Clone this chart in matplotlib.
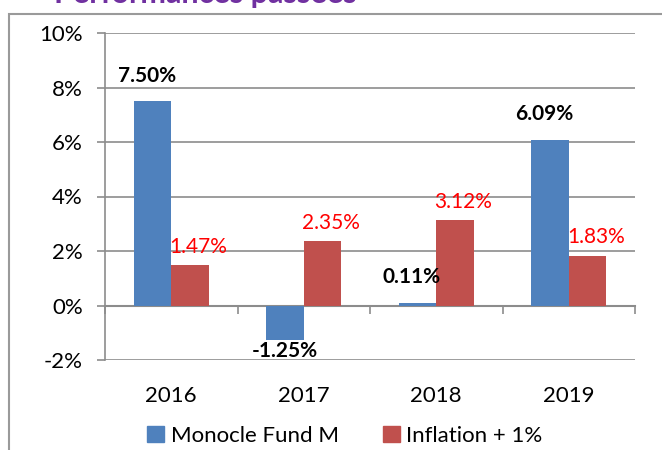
import matplotlib.pyplot as plt
from matplotlib.patches import Rectangle
import numpy as np

# Données du graphique
years = ['2016', '2017', '2018', '2019']
fund = [7.50, -1.25, 0.11, 6.09]
inflation = [1.47, 2.35, 3.12, 1.83]
fund_labels = ['7.50%', '-1.25%', '0.11%', '6.09%']
inflation_labels = ['1.47%', '2.35%', '3.12%', '1.83%']
y_ticks = [-2, 0, 2, 4, 6, 8, 10]

COLORS = {
    'fund': '#4F81BD',
    'inflation': '#C0504D',
    'grid': '#8C8C8C',
    'frame': '#9A9A9A',
    'title': '#7030A0',
    'red_text': '#FF0000',
}

plt.rcParams['font.family'] = ['Lato', 'DejaVu Sans']

fig = plt.figure(figsize=(6.62, 4.5), dpi=100)
ax = fig.add_axes([105 / 662, 1 - 360 / 450, 530 / 662, 327 / 450])

x = np.arange(len(years))
w = 0.283
ax.bar(x - w / 2, fund, w, color=COLORS['fund'], zorder=3)
ax.bar(x + w / 2, inflation, w, color=COLORS['inflation'], zorder=3)

ax.set_xlim(-0.5, len(years) - 0.5)
ax.set_ylim(-2, 10)

# Axe Y
ax.set_yticks(y_ticks)
ax.set_yticklabels([f'{v}%' for v in y_ticks], fontsize=16)
ax.tick_params(axis='y', length=6, width=1.2, color=COLORS['grid'], pad=10)
ax.grid(axis='y', color=COLORS['grid'], linewidth=1.2, zorder=0)

# Axe X : ligne à 0, graduations entre les catégories
ax.spines['bottom'].set_position(('data', 0))
ax.spines['bottom'].set_color(COLORS['grid'])
ax.spines['bottom'].set_linewidth(1.5)
ax.spines['left'].set_color(COLORS['grid'])
ax.spines['left'].set_linewidth(1.2)
ax.spines['top'].set_visible(False)
ax.spines['right'].set_visible(False)
ax.set_xticks(x)
ax.set_xticklabels(years, fontsize=16)
ax.tick_params(axis='x', length=0, pad=58)
ax.set_xticks(np.arange(len(years) + 1) - 0.5, minor=True)
ax.tick_params(axis='x', which='minor', length=6, width=1.2, color=COLORS['grid'])

# Étiquettes de valeurs
for xi, v, lab in zip(x, fund, fund_labels):
    if v >= 0:
        ax.annotate(lab, (xi - w / 2, v), xytext=(-4, 11), textcoords='offset points',
                    ha='center', va='bottom', fontsize=15, fontweight='bold', color='black')
    else:
        ax.annotate(lab, (xi - w / 2, v), xytext=(0, -1), textcoords='offset points',
                    ha='center', va='top', fontsize=15, fontweight='bold', color='black')
for xi, v, lab in zip(x, inflation, inflation_labels):
    ax.annotate(lab, (xi + w / 2, v), xytext=(6, 6), textcoords='offset points',
                ha='center', va='bottom', fontsize=15, color=COLORS['red_text'])

# Légende
handles = [Rectangle((0, 0), 1, 1, color=COLORS['fund']),
           Rectangle((0, 0), 1, 1, color=COLORS['inflation'])]
fig.legend(handles, ['Monocle Fund M', 'Inflation + 1%'], loc='center',
           bbox_to_anchor=(345 / 662, 1 - 436 / 450), ncol=2, frameon=False,
           fontsize=16, handlelength=0.75, handleheight=0.75, handletextpad=0.3,
           columnspacing=2.0)

# Cadre extérieur
fig.add_artist(Rectangle((9 / 662, -0.05), 1.1, 1 - 13.5 / 450 + 0.05,
                         transform=fig.transFigure, fill=False,
                         edgecolor=COLORS['frame'], linewidth=1.5))

# Titre (coupé en haut)
fig.text(357 / 662, 1 - 3 / 450, 'Performances passées', ha='right', va='baseline',
         fontsize=22, fontweight='bold', color=COLORS['title'])

fig.savefig('out.png', dpi=100)
